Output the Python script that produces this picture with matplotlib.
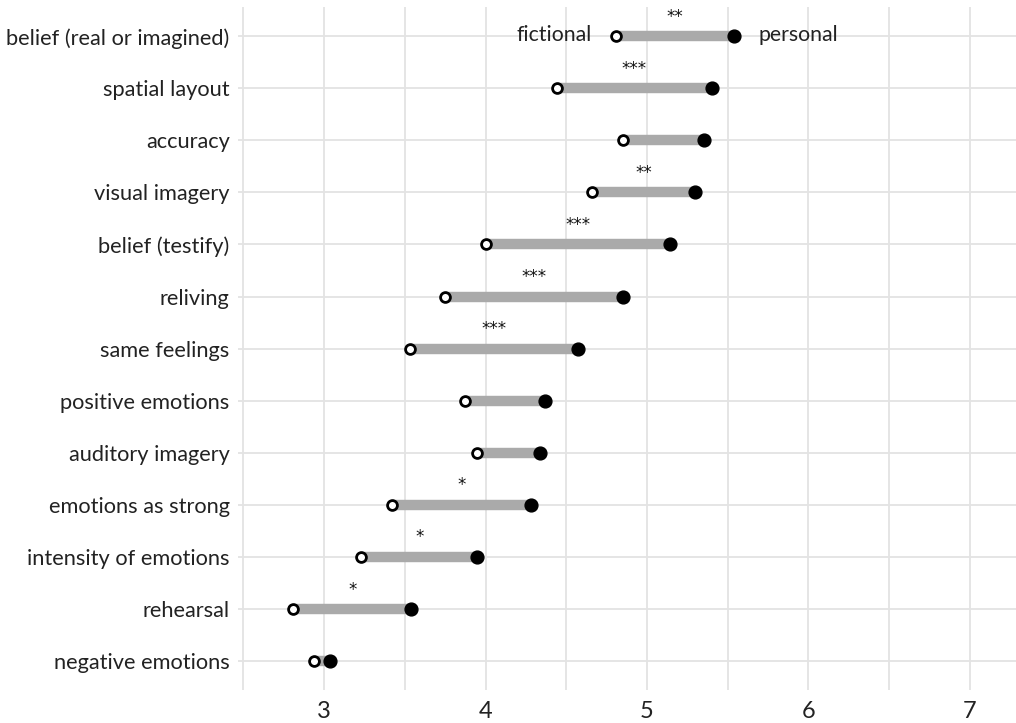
import numpy as np
import matplotlib.pyplot as plt

# items from top to bottom
items = ['belief (real or imagined)', 'spatial layout', 'accuracy', 'visual imagery',
         'belief (testify)', 'reliving', 'same feelings', 'positive emotions',
         'auditory imagery', 'emotions as strong', 'intensity of emotions',
         'rehearsal', 'negative emotions']
fictional = [4.81, 4.44, 4.85, 4.66, 4.00, 3.75, 3.53, 3.87, 3.95, 3.42, 3.23, 2.81, 2.94]
personal = [5.54, 5.40, 5.35, 5.30, 5.14, 4.85, 4.57, 4.37, 4.34, 4.28, 3.95, 3.54, 3.04]
sig = ['**', '***', '', '**', '***', '***', '***', '', '', '*', '*', '*', '']

plt.rcParams['font.family'] = ['Lato', 'DejaVu Sans']

fig = plt.figure(figsize=(10.16, 7.23), dpi=100)
ax = fig.add_axes([0.2343, 0.0456, 0.7657, 0.9444])

n = len(items)
y = np.arange(n)[::-1]

ax.hlines(y, fictional, personal, color='#aaaaaa', linewidth=7.5, zorder=2)
ax.scatter(personal, y, s=85, color='black', zorder=3)
ax.scatter(fictional, y, s=50, facecolor='white', edgecolor='black', linewidth=2, zorder=4)

for i in range(n):
    if sig[i]:
        mid = (fictional[i] + personal[i]) / 2
        ax.text(mid, y[i] + 0.2, sig[i], ha='center', va='bottom', fontsize=12,
                family='DejaVu Sans', color='#111111')

ax.text(fictional[0] - 0.15, y[0] + 0.02, 'fictional', ha='right', va='center', fontsize=15.3, color='#222222')
ax.text(personal[0] + 0.15, y[0] + 0.02, 'personal', ha='left', va='center', fontsize=15.3, color='#222222')

ax.set_xlim(2.4675, 7.285)
ax.set_ylim(-0.557, 12.557)
ax.set_yticks(y)
ax.set_yticklabels(items, fontsize=15.7, color='#222222')
ax.set_xticks([3, 4, 5, 6, 7])
ax.set_xticks([2.5, 3.5, 4.5, 5.5, 6.5], minor=True)
ax.tick_params(axis='x', which='major', labelsize=17, length=0, pad=8, labelcolor='#222222')
ax.tick_params(axis='x', which='minor', length=0)
ax.tick_params(axis='y', length=0, pad=6)

ax.grid(True, which='both', color='#e3e3e3', linewidth=1.3, zorder=0)
ax.set_axisbelow(True)
for s in ax.spines.values():
    s.set_visible(False)

fig.savefig('out.png', dpi=100)
